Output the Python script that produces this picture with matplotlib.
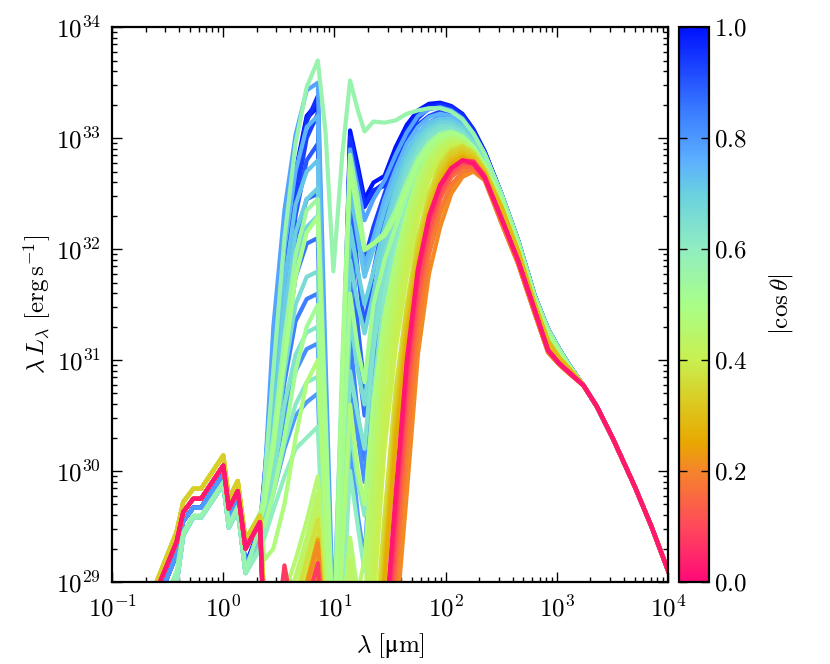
import numpy as np
import matplotlib
matplotlib.use('Agg')
import matplotlib.pyplot as plt
from matplotlib.colors import LinearSegmentedColormap, Normalize
from matplotlib.cm import ScalarMappable
from matplotlib.ticker import FuncFormatter, LogLocator, NullFormatter

plt.rcParams['mathtext.fontset'] = 'cm'
plt.rcParams['font.family'] = 'serif'
plt.rcParams['font.serif'] = ['cmr10', 'DejaVu Serif']
plt.rcParams['axes.unicode_minus'] = False

# wavelength grid: log10(lambda / micron)
log_lam = [-0.66, -0.42, -0.36, -0.27, -0.2, 0.0, 0.05, 0.13, 0.2,
           0.33, 0.37, 0.45, 0.55, 0.65, 0.75, 0.85, 0.92, 0.99, 1.07, 1.14, 1.21, 1.27, 1.35,
           1.45, 1.55, 1.65, 1.75, 1.85, 1.95, 2.05, 2.15, 2.25, 2.35,
           2.5, 2.65, 2.8, 2.92, 3.02, 3.12, 3.24, 3.36, 3.5, 3.7, 3.85, 4.0]

# log10(lambda L_lambda) pieces
# stellar (scattered light) part, 0.22-1.6 micron
star_y = [28.85, 29.45, 29.72, 29.84, 29.84, 30.14, 29.75, 29.91, 29.38]
star_r = [28.78, 29.36, 29.63, 29.75, 29.75, 30.05, 29.66, 29.82, 29.30]
star_b = [28.65, 29.25, 29.55, 29.67, 29.67, 29.97, 29.58, 29.74, 29.15]
star_c = [28.45, 28.98, 29.42, 29.58, 29.58, 29.88, 29.49, 29.65, 29.08]
star_g = [28.50, 29.10, 29.45, 29.60, 29.60, 29.90, 29.52, 29.68, 29.10]
# long-wavelength tails, 300 micron - 1 cm
tail_b = [32.50, 32.08, 31.58, 31.28, 31.10, 30.94, 30.77, 30.58, 30.30, 29.86, 29.50, 29.10]
tail_m = [32.45, 32.04, 31.55, 31.24, 31.07, 30.93, 30.77, 30.58, 30.30, 29.86, 29.50, 29.10]
tail_y = [32.38, 31.98, 31.50, 31.17, 31.02, 30.91, 30.77, 30.58, 30.30, 29.86, 29.50, 29.10]
tail_r = [32.28, 31.90, 31.45, 31.09, 30.97, 30.88, 30.77, 30.58, 30.30, 29.86, 29.50, 29.10]
tail_o = [32.24, 31.87, 31.42, 31.07, 30.96, 30.87, 30.77, 30.58, 30.30, 29.86, 29.50, 29.10]

# per viewing angle: mid-IR part (2.1-22 micron) and far-IR hump (28-220 micron)
sed_c100 = star_b + [29.50, 29.95, 30.90, 31.95, 32.70, 33.20, 33.32, 30.30, 28.30, 30.60, 33.07, 32.75, 32.45, 32.60] + [32.66, 32.92, 33.12, 33.25, 33.31, 33.32, 33.29, 33.22, 33.08, 32.88] + tail_b
sed_c098 = star_b + [29.48, 29.90, 30.80, 31.85, 32.65, 33.18, 33.28, 30.00, 28.00, 30.40, 33.02, 32.70, 32.38, 32.52] + [32.60, 32.85, 33.08, 33.22, 33.29, 33.31, 33.28, 33.21, 33.07, 32.88] + tail_b
sed_c096 = star_b + [29.46, 29.85, 30.75, 31.80, 32.60, 33.15, 33.38, 30.60, 28.00, 30.30, 33.00, 32.68, 32.40, 32.53] + [32.57, 32.72, 33.00, 33.18, 33.27, 33.30, 33.28, 33.21, 33.07, 32.88] + tail_b
sed_c093 = star_b + [29.45, 29.80, 30.60, 31.60, 32.45, 33.00, 33.22, 30.00, 27.80, 30.00, 32.85, 32.30, 31.90, 32.20] + [32.50, 32.78, 32.98, 33.12, 33.20, 33.24, 33.23, 33.17, 33.05, 32.87] + tail_b
sed_c090 = star_b + [29.43, 29.75, 30.50, 31.45, 32.30, 32.80, 32.95, 29.90, 27.60, 29.90, 32.55, 31.80, 31.30, 31.80] + [32.30, 32.62, 32.86, 33.04, 33.14, 33.19, 33.19, 33.14, 33.03, 32.86] + tail_b
sed_c088 = star_b + [29.42, 29.70, 30.35, 31.30, 32.10, 32.45, 32.50, 29.70, 27.50, 29.60, 32.20, 31.30, 30.75, 31.35] + [31.95, 32.40, 32.72, 32.95, 33.08, 33.15, 33.15, 33.10, 32.99, 32.83] + tail_m
sed_c086 = star_b + [29.41, 29.65, 30.20, 31.05, 31.75, 32.05, 32.10, 29.50, 27.50, 29.40, 31.70, 31.00, 30.50, 31.20] + [31.85, 32.32, 32.66, 32.90, 33.05, 33.12, 33.12, 33.07, 32.97, 32.81] + tail_m
sed_c084 = star_b + [29.40, 29.60, 30.10, 30.80, 31.35, 31.55, 31.60, 29.30, 27.50, 29.20, 31.20, 30.50, 30.10, 31.00] + [31.75, 32.25, 32.60, 32.85, 33.00, 33.07, 33.08, 33.03, 32.93, 32.78] + tail_m
sed_c082 = star_b + [29.39, 29.55, 29.95, 30.50, 30.90, 31.10, 31.15, 29.00, 27.50, 28.90, 30.70, 30.30, 29.90, 30.90] + [31.65, 32.20, 32.56, 32.82, 32.98, 33.06, 33.07, 33.02, 32.92, 32.77] + tail_m
sed_c080 = star_b + [29.38, 29.50, 29.80, 30.20, 30.50, 30.62, 30.70, 28.80, 27.50, 28.60, 30.30, 29.60, 29.20, 30.60] + [31.50, 32.10, 32.50, 32.78, 32.95, 33.03, 33.05, 33.00, 32.90, 32.76] + tail_m
sed_c078 = star_c + [29.40, 29.90, 31.30, 32.35, 33.03, 33.43, 33.50, 31.00, 28.60, 30.80, 32.90, 32.55, 32.26, 32.45] + [32.62, 32.85, 33.05, 33.20, 33.26, 33.28, 33.25, 33.18, 33.04, 32.86] + tail_b
sed_c075 = star_c + [29.38, 29.80, 30.90, 32.00, 32.70, 33.10, 33.20, 30.50, 28.20, 30.50, 32.70, 32.20, 31.85, 32.10] + [32.45, 32.72, 32.95, 33.10, 33.19, 33.22, 33.20, 33.14, 33.02, 32.85] + tail_b
sed_c072 = star_c + [29.35, 29.70, 30.60, 31.70, 32.40, 32.70, 32.80, 30.20, 27.80, 30.00, 32.56, 32.10, 31.75, 32.00] + [32.35, 32.65, 32.88, 33.04, 33.14, 33.18, 33.17, 33.11, 32.99, 32.82] + tail_m
sed_c070 = star_c + [29.34, 29.65, 30.45, 31.45, 32.15, 32.45, 32.55, 30.00, 27.80, 29.80, 32.20, 31.80, 31.50, 31.80] + [32.20, 32.55, 32.82, 33.00, 33.10, 33.15, 33.15, 33.10, 32.98, 32.81] + tail_m
sed_c068 = star_c + [29.33, 29.60, 30.30, 31.20, 31.90, 32.20, 32.30, 29.90, 27.80, 29.70, 31.90, 31.50, 31.24, 31.60] + [32.10, 32.50, 32.78, 32.97, 33.08, 33.13, 33.13, 33.08, 32.97, 32.80] + tail_m
sed_c066 = star_c + [29.32, 29.55, 30.10, 30.90, 31.50, 31.75, 31.80, 29.60, 27.60, 29.40, 31.40, 30.90, 30.60, 31.30] + [31.95, 32.40, 32.72, 32.92, 33.05, 33.11, 33.11, 33.06, 32.96, 32.80] + tail_m
sed_c064 = star_c + [29.30, 29.50, 29.95, 30.60, 31.05, 31.25, 31.30, 29.30, 27.50, 29.10, 30.90, 30.50, 30.20, 31.10] + [31.80, 32.30, 32.65, 32.88, 33.02, 33.08, 33.09, 33.05, 32.95, 32.79] + tail_m
sed_c062 = star_c + [29.30, 29.45, 29.80, 30.25, 30.60, 30.80, 30.85, 29.00, 27.50, 28.90, 30.40, 29.90, 29.60, 30.70] + [31.60, 32.15, 32.55, 32.82, 32.98, 33.05, 33.07, 33.02, 32.92, 32.77] + tail_m
sed_c060 = star_c + [29.30, 29.40, 29.65, 29.95, 30.20, 30.30, 30.40, 28.80, 27.50, 28.70, 30.00, 29.50, 29.10, 30.40] + [31.40, 32.00, 32.42, 32.70, 32.87, 32.96, 33.00, 32.98, 32.90, 32.75] + tail_m
sed_c057 = star_g + [29.50, 29.90, 30.90, 32.10, 32.95, 33.46, 33.70, 33.05, 31.80, 32.85, 33.52, 33.25, 33.06, 33.15] + [33.14, 33.16, 33.22, 33.25, 33.27, 33.27, 33.24, 33.17, 33.04, 32.86] + tail_b
sed_c054 = star_y + [29.62, 29.75, 30.30, 31.20, 31.95, 32.35, 32.45, 30.50, 28.40, 31.00, 32.85, 32.45, 32.00, 32.05] + [32.15, 32.35, 32.60, 32.82, 32.96, 33.04, 33.06, 33.02, 32.92, 32.76] + tail_m
sed_c052 = star_y + [29.58, 29.50, 29.80, 30.30, 30.90, 31.30, 31.50, 29.80, 27.80, 30.00, 31.60, 31.10, 30.80, 31.50] + [31.90, 32.20, 32.50, 32.75, 32.90, 33.00, 33.03, 33.00, 32.90, 32.75] + tail_m
sed_c050 = star_y + [29.55, 29.70, 30.20, 31.00, 31.75, 32.15, 32.29, 30.30, 28.30, 30.80, 32.74, 32.30, 31.99, 32.05] + [32.12, 32.30, 32.55, 32.78, 32.93, 33.02, 33.05, 33.01, 32.92, 32.76] + tail_m
sed_c048 = star_y + [29.60, 29.20, 29.30, 29.70, 30.30, 30.80, 31.00, 29.50, 27.50, 29.30, 30.60, 30.00, 29.70, 30.60] + [31.40, 31.90, 32.32, 32.65, 32.86, 32.97, 33.01, 32.98, 32.89, 32.74] + tail_y
sed_c046 = star_y + [29.60, 28.80, 28.70, 28.90, 29.20, 29.55, 29.95, 29.00, 27.50, 28.60, 29.40, 28.90, 29.20, 30.20] + [31.20, 31.75, 32.25, 32.60, 32.83, 32.95, 33.00, 32.97, 32.88, 32.72] + tail_y
sed_c044 = star_y + [29.60, 28.80, 28.60, 28.75, 29.05, 29.40, 29.80, 28.80, 27.50, 28.40, 29.20, 28.70, 28.80, 29.90] + [31.00, 31.60, 32.15, 32.53, 32.78, 32.92, 32.98, 32.96, 32.88, 32.72] + tail_y
sed_c043 = star_y + [29.60, 28.80, 28.50, 28.60, 28.90, 29.30, 29.70, 28.70, 27.50, 28.20, 29.00, 28.50, 28.40, 29.50] + [30.80, 31.50, 32.05, 32.46, 32.73, 32.89, 32.96, 32.95, 32.87, 32.72] + tail_y
sed_c041 = star_y + [29.60, 28.80, 28.50, 28.55, 28.80, 29.20, 29.60, 28.60, 27.50, 28.10, 28.90, 28.40, 28.30, 29.10] + [30.50, 31.30, 31.90, 32.36, 32.67, 32.85, 32.94, 32.94, 32.87, 32.72] + tail_y
sed_c040 = star_y + [29.60, 28.80, 28.50, 28.50, 28.70, 29.10, 29.50, 28.60, 27.50, 28.00, 28.80, 28.30, 28.20, 28.80] + [30.20, 31.10, 31.75, 32.27, 32.62, 32.82, 32.93, 32.94, 32.87, 32.71] + tail_y
sed_c037 = star_y + [29.60, 28.70, 28.40, 28.50, 28.80, 29.20, 29.56, 28.60, 27.50, 27.50, 28.50, 28.00, 27.80, 28.30] + [29.60, 30.75, 31.50, 32.10, 32.50, 32.77, 32.90, 32.93, 32.87, 32.72] + tail_y
sed_c035 = star_y + [29.60, 28.70, 28.35, 28.40, 28.60, 29.00, 29.40, 28.50, 27.50, 27.50, 28.40, 27.90, 27.60, 28.00] + [29.40, 30.60, 31.45, 32.05, 32.46, 32.74, 32.88, 32.92, 32.86, 32.71] + tail_y
sed_c033 = star_y + [29.60, 28.70, 28.30, 28.30, 28.50, 28.90, 29.30, 28.50, 27.50, 27.50, 28.30, 27.80, 27.50, 27.80] + [29.30, 30.55, 31.40, 32.00, 32.42, 32.70, 32.86, 32.90, 32.84, 32.70] + tail_y
sed_c031 = star_r + [29.54, 28.60, 28.30, 28.40, 28.60, 28.90, 29.25, 28.40, 27.50, 27.50, 28.20, 27.70, 27.50, 27.50] + [29.20, 30.45, 31.30, 31.93, 32.38, 32.66, 32.82, 32.87, 32.82, 32.69] + tail_y
sed_c029 = star_r + [29.54, 28.60, 28.30, 28.40, 28.60, 28.90, 29.20, 28.40, 27.50, 27.50, 28.20, 27.70, 27.50, 27.50] + [29.10, 30.35, 31.25, 31.88, 32.33, 32.62, 32.80, 32.85, 32.80, 32.68] + tail_y
sed_c026 = star_r + [29.54, 28.60, 28.30, 28.40, 28.70, 29.00, 29.38, 28.40, 27.50, 27.50, 28.20, 27.70, 27.50, 27.50] + [29.00, 30.25, 31.15, 31.82, 32.28, 32.58, 32.77, 32.83, 32.79, 32.67] + tail_r
sed_c023 = star_r + [29.54, 28.50, 28.20, 28.30, 28.50, 28.80, 29.10, 28.30, 27.50, 27.50, 27.50, 27.50, 27.50, 27.50] + [28.40, 29.50, 30.70, 31.45, 31.98, 32.32, 32.55, 32.67, 32.71, 32.64] + tail_o
sed_c021 = star_r + [29.54, 28.50, 28.20, 28.30, 28.60, 28.95, 29.35, 28.30, 27.50, 27.50, 27.50, 27.50, 27.50, 27.50] + [27.80, 28.60, 29.80, 31.05, 31.78, 32.20, 32.50, 32.65, 32.70, 32.62] + tail_o
sed_c018 = star_r + [29.54, 28.50, 28.20, 28.30, 28.50, 28.80, 29.10, 28.30, 27.50, 27.50, 27.50, 27.50, 27.50, 27.50] + [28.10, 29.00, 30.20, 31.30, 31.95, 32.35, 32.58, 32.70, 32.72, 32.63] + tail_o
sed_c015 = star_r + [29.54, 28.50, 28.20, 28.30, 28.50, 28.70, 29.00, 28.20, 27.50, 27.50, 27.50, 27.50, 27.50, 27.50] + [28.00, 29.20, 30.50, 31.50, 32.10, 32.45, 32.65, 32.74, 32.74, 32.64] + tail_r
sed_c011 = star_r + [29.54, 28.50, 28.20, 28.30, 28.50, 28.70, 28.90, 28.20, 27.50, 27.50, 27.50, 27.50, 27.50, 27.50] + [28.20, 29.40, 30.70, 31.62, 32.18, 32.50, 32.69, 32.77, 32.77, 32.65] + tail_r
sed_c008 = star_r + [29.54, 28.40, 28.30, 29.15, 28.60, 28.80, 29.17, 28.20, 27.50, 27.50, 27.50, 27.50, 27.50, 27.50] + [28.30, 29.60, 30.85, 31.75, 32.25, 32.55, 32.72, 32.80, 32.79, 32.66] + tail_r
sed_c005 = star_r + [29.54, 28.40, 28.20, 28.30, 28.40, 28.50, 28.70, 28.00, 27.50, 27.50, 27.50, 27.50, 27.50, 27.50] + [28.40, 29.70, 30.95, 31.80, 32.28, 32.57, 32.73, 32.80, 32.78, 32.65] + tail_r
sed_c002 = star_r + [29.54, 28.40, 28.20, 28.30, 28.40, 28.50, 28.70, 28.00, 27.50, 27.50, 27.50, 27.50, 27.50, 27.50] + [28.50, 29.80, 31.00, 31.82, 32.30, 32.58, 32.73, 32.80, 32.77, 32.64] + tail_r

cos_values = [1.00, 0.98, 0.96, 0.93, 0.90, 0.88, 0.86, 0.84, 0.82, 0.80,
              0.78, 0.75, 0.72, 0.70, 0.68, 0.66, 0.64, 0.62, 0.60, 0.57,
              0.54, 0.52, 0.50, 0.48, 0.46, 0.44, 0.43, 0.41, 0.40, 0.37,
              0.35, 0.33, 0.31, 0.29, 0.26, 0.23, 0.21, 0.18, 0.15, 0.11,
              0.08, 0.05, 0.02]
seds = [sed_c100, sed_c098, sed_c096, sed_c093, sed_c090, sed_c088, sed_c086, sed_c084,
        sed_c082, sed_c080, sed_c078, sed_c075, sed_c072, sed_c070, sed_c068, sed_c066,
        sed_c064, sed_c062, sed_c060, sed_c057, sed_c054, sed_c052, sed_c050, sed_c048,
        sed_c046, sed_c044, sed_c043, sed_c041, sed_c040, sed_c037, sed_c035, sed_c033,
        sed_c031, sed_c029, sed_c026, sed_c023, sed_c021, sed_c018, sed_c015, sed_c011,
        sed_c008, sed_c005, sed_c002]

cb_ticks = [0.0, 0.2, 0.4, 0.6, 0.8, 1.0]

# colormap anchors (|cos theta| -> colour)
cmap_pos = [0.0, 0.1, 0.2, 0.25, 0.32, 0.4, 0.5, 0.6, 0.7, 0.76, 0.85, 1.0]
cmap_col = ['#ff0a78', '#ff4a5a', '#f5852a', '#e8a800', '#dcc820', '#c8f050', '#a8fe88',
            '#90eec0', '#6ad0e0', '#5cb0ff', '#3a7cff', '#0012ff']
cmap = LinearSegmentedColormap.from_list('incl', list(zip(cmap_pos, cmap_col)))

fig = plt.figure(figsize=(8.3, 6.64), dpi=100)
ax = fig.add_axes([0.135, 0.1235, 0.670, 0.8355])

lam = 10 ** np.array(log_lam)
for c, s in zip(cos_values, seds):
    ax.plot(lam, 10 ** np.array(s), color=cmap(c), lw=3.0)

ax.set_xscale('log')
ax.set_yscale('log')
ax.set_xlim(1e-1, 1e4)
ax.set_ylim(1e29, 1e34)

fmt = FuncFormatter(lambda v, p: r'$10^{%d}$' % int(round(np.log10(v))))
ax.xaxis.set_major_formatter(fmt)
ax.yaxis.set_major_formatter(fmt)
ax.xaxis.set_major_locator(LogLocator(base=10, numticks=10))
ax.yaxis.set_major_locator(LogLocator(base=10, numticks=10))
ax.xaxis.set_minor_locator(LogLocator(base=10, subs=np.arange(2, 10), numticks=20))
ax.yaxis.set_minor_locator(LogLocator(base=10, subs=np.arange(2, 10), numticks=20))
ax.xaxis.set_minor_formatter(NullFormatter())
ax.yaxis.set_minor_formatter(NullFormatter())
ax.tick_params(which='both', direction='in', top=True, right=True, labelsize=18)
ax.tick_params(axis='x', which='major', length=7, width=1.0, pad=10)
ax.tick_params(axis='y', which='major', length=7, width=1.0, pad=8)
ax.tick_params(which='minor', length=3.5, width=1.0)
for sp in ax.spines.values():
    sp.set_linewidth(1.6)

ax.set_xlabel('$\\lambda\\ [\\mathrm{\u03bcm}]$', fontsize=18, labelpad=7)
ax.set_ylabel(r'$\lambda\, L_\lambda\ [\mathrm{erg\,s^{-1}}]$', fontsize=18, labelpad=2)

cax = fig.add_axes([0.818, 0.1235, 0.036, 0.8355])
sm = ScalarMappable(norm=Normalize(0, 1), cmap=cmap)
cb = fig.colorbar(sm, cax=cax)
cb.set_ticks(cb_ticks)
cb.set_ticklabels([r'$%.1f$' % t for t in cb_ticks])
cb.ax.tick_params(direction='in', left=True, right=True, length=6, width=1.0, labelsize=18, pad=4)
cb.outline.set_linewidth(1.6)
cb.set_label(r'$|\cos\theta|$', fontsize=18, labelpad=14)

fig.savefig('out.png', dpi=100)
